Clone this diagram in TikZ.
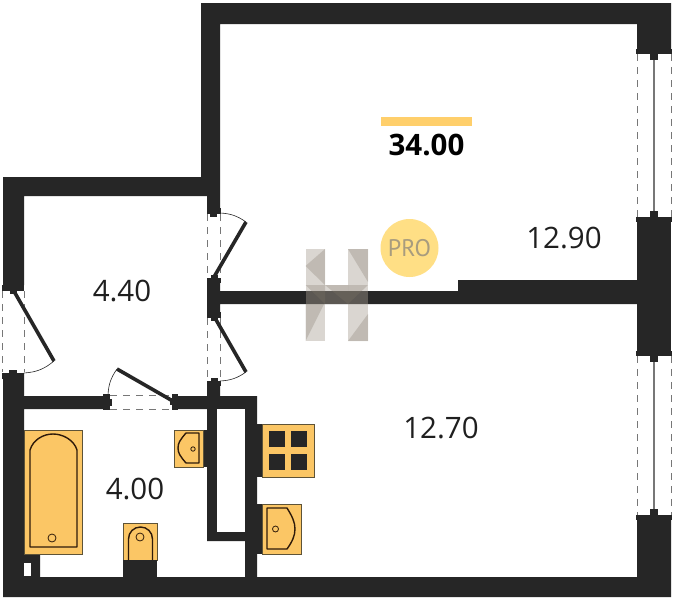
\documentclass[tikz,border=0pt]{standalone}
\usepackage{fontspec}
\setmainfont{Open Sans}
\newfontfamily\prof{PT Sans}
\definecolor{wallc}{HTML}{262626}
\definecolor{fixc}{HTML}{FBC665}
\definecolor{fixl}{HTML}{5E5337}
\definecolor{innerc}{HTML}{2E1A0A}
\definecolor{dashc}{HTML}{777777}
\definecolor{barc}{HTML}{FFCF6B}
\definecolor{proc}{HTML}{FFDF85}
\definecolor{protx}{HTML}{A89C7E}
\definecolor{hbase}{HTML}{A89E92}
\definecolor{hshade}{HTML}{7E7566}
\tikzset{
  wall/.style={fill=wallc,draw=none},
  fixture/.style={fill=fixc,draw=fixl,line width=0.6pt},
  fixinner/.style={draw=innerc,line width=1.4pt,line join=round},
  fixdot/.style={draw=innerc,line width=0.8pt,fill=fixc},
  leaf/.style={draw=wallc,line width=3.6pt},
  swing/.style={draw=wallc,line width=0.6pt},
  openline/.style={draw=dashc,line width=0.8pt,dash pattern=on 7pt off 6pt},
  glass/.style={draw=dashc,line width=1.6pt},
  roomlabel/.style={font=\fontsize{29.5}{31}\selectfont,text=black!88,inner sep=0pt},
  hface/.style={fill=hbase,fill opacity=.42},
  hfold/.style={fill=hshade,fill opacity=.28},
}
\begin{document}
\begin{tikzpicture}[x=1pt,y=-1pt]
\useasboundingbox[fill=white] (0,0) rectangle (673,600);
% walls
\fill[wall] (201,3) -- (671,3) -- (671,50) -- (637,50) -- (637,24) -- (220,24) -- (220,208) -- (207,208) -- (207,196) -- (24,196) -- (24,285) -- (3,285) -- (3,177) -- (201,177) -- cycle;
\fill[wall] (637,222) rectangle (671,352);
\fill[wall] (207,280) -- (220,280) -- (220,291) -- (458,291) -- (458,280) -- (637,280) -- (637,304) -- (220,304) -- (220,315) -- (207,315) -- cycle;
\fill[wall] (637,520) -- (671,520) -- (671,597) -- (3,597) -- (3,373) -- (24,373) -- (24,396) -- (105,396) -- (105,409) -- (24,409) -- (24,555) -- (40,555) -- (40,577) -- (245,577) -- (245,541) -- (207,541) -- (207,409) -- (177,409) -- (177,396) -- (207,396) -- (207,382) -- (220,382) -- (220,396) -- (257,396) -- (257,577) -- (637,577) -- cycle;
\fill[white] (217,409) rectangle (245,532);
\fill[white] (24,563) rectangle (31,576);
% windows
\foreach \a/\b in {50/222,352/520}{
  \draw[openline] (637,\a+4) -- (637,\b-4);
  \draw[openline] (671,\a+4) -- (671,\b-4);
  \draw[glass] (654,\a+8) -- (654,\b-8);
  \fill[wall] (636,\a-1) rectangle (672,\a+4);
  \fill[wall] (650,\a+4) rectangle (658,\a+10);
  \fill[wall] (636,\b-5) rectangle (672,\b);
  \fill[wall] (650,\b-11) rectangle (658,\b-5);
}
% entrance door
\draw[openline] (2,291) -- (2,372);
\draw[openline] (24,291) -- (24,372);
\fill[wall] (2,285) rectangle (24,291);
\fill[wall] (10,291) rectangle (17,294);
\fill[wall] (2,373) rectangle (24,379);
\fill[wall] (9,370) rectangle (17,373);
\draw[leaf] (15,293) -- (54,361);
\draw[swing] (54,361) to[bend left=18] (24,373);
% door to upper room
\draw[openline] (207,214) -- (207,278);
\draw[openline] (220,214) -- (220,278);
\fill[wall] (207,208) rectangle (221,214);
\fill[wall] (210,214) rectangle (217,217);
\fill[wall] (207,278) rectangle (221,283);
\fill[wall] (211,275) rectangle (218,278);
\draw[leaf] (214,277) -- (246,222);
\draw[swing] (246,222) to[bend right=16] (220,213);
% door to lower room
\draw[openline] (207,318) -- (207,380);
\draw[openline] (220,318) -- (220,380);
\fill[wall] (207,312) rectangle (221,318);
\fill[wall] (211,318) rectangle (218,321);
\fill[wall] (207,381) rectangle (221,386);
\fill[wall] (211,378) rectangle (218,381);
\draw[leaf] (215,318) -- (246,372);
\draw[swing] (246,372) to[bend left=16] (220,381);
% bathroom door
\draw[openline] (110,395) -- (172,395);
\draw[openline] (110,409) -- (172,409);
\fill[wall] (103,394) rectangle (110,410);
\fill[wall] (110,399) rectangle (112,406);
\fill[wall] (172,394) rectangle (178,410);
\fill[wall] (170,398) rectangle (172,405);
\draw[leaf] (171,400) -- (117,369);
\draw[swing] (117,369) to[bend right=16] (108,395);
% bath
\filldraw[fixture] (24,430) rectangle (82,554);
\draw[fixinner] (30,547) -- (30,450) .. controls (33,440) and (43,434) .. (53,434) .. controls (63,434) and (74,440) .. (77,450) -- (77,547) -- cycle;
\draw[fixdot] (52,538) circle (4);
% basin in bathroom
\fill[wall] (203,430) rectangle (207,467);
\filldraw[fixture] (174,430) rectangle (203,467);
\draw[fixinner] (199,433) -- (199,463) -- (186,463) .. controls (180,456) and (178,453) .. (178,448) .. controls (178,443) and (180,440) .. (186,433) -- cycle;
\draw[fixdot] (193,449) circle (2.2);
% stove
\fill[wall] (257,424) rectangle (262,477);
\filldraw[fixture] (262,424) rectangle (314,477);
\foreach \px in {269,291}\foreach \py in {431,454}{\fill[wall] (\px,\py) rectangle ++(16,16);}
% kitchen sink
\fill[wall] (257,504) rectangle (262,554);
\filldraw[fixture] (262,504) rectangle (301,554);
\draw[fixinner] (267,508) -- (287,508) .. controls (292,516) and (295,522) .. (295,529) .. controls (295,536) and (292,542) .. (287,549) -- (267,549) -- cycle;
\draw[fixdot] (275.5,529) circle (3);
% WC
\filldraw[fixture] (123,523) rectangle (157,560);
\fill[wall] (123,560) rectangle (157,577);
\draw[fixinner] (128.5,560) -- (128.5,539) .. controls (128.5,532) and (134,527) .. (140.5,527) .. controls (147,527) and (152.5,532) .. (152.5,539) -- (152.5,560);
\draw[fixdot] (140,537) circle (4);
% labels
\fill[barc] (381,117) rectangle (472,126);
\node[roomlabel,font=\fontsize{29.5}{31}\selectfont\bfseries,text=black] (total) at (426.5,145) {34.00};
\node[roomlabel] (r1) at (564,238) {12.90};
\node[roomlabel] (r2) at (122,291) {4.40};
\node[roomlabel] (r3) at (135,489) {4.00};
\node[roomlabel] (r4) at (441,428) {12.70};
% pro
\fill[proc] (409.5,248) circle (29);
\node[inner sep=0pt,text=protx,font=\prof\fontsize{24}{26}\selectfont] (pro) at (409.5,248) {PRO};
% H mark
\fill[hface] (305.5,249) rectangle (325,341);
\fill[hface] (348,249) rectangle (368,341);
\fill[hface] (325,285) rectangle (348,304);
\fill[hfold] (325,249) -- (305.5,266) -- (325,285) -- cycle;
\fill[hfold] (305.5,304) -- (324,304) -- (305.5,341) -- cycle;
\fill[hfold] (305.5,285) -- (325,285) -- (325,304) -- cycle;
\fill[hfold] (348,249) -- (368,249) -- (368,282) -- cycle;
\fill[hfold] (368,314) -- (348,341) -- (368,341) -- cycle;
\fill[hfold] (348,304) -- (368,285) -- (348,285) -- cycle;
\fill[hfold] (325,285) -- (348,285) -- (348,304) -- cycle;
\end{tikzpicture}
\end{document}
